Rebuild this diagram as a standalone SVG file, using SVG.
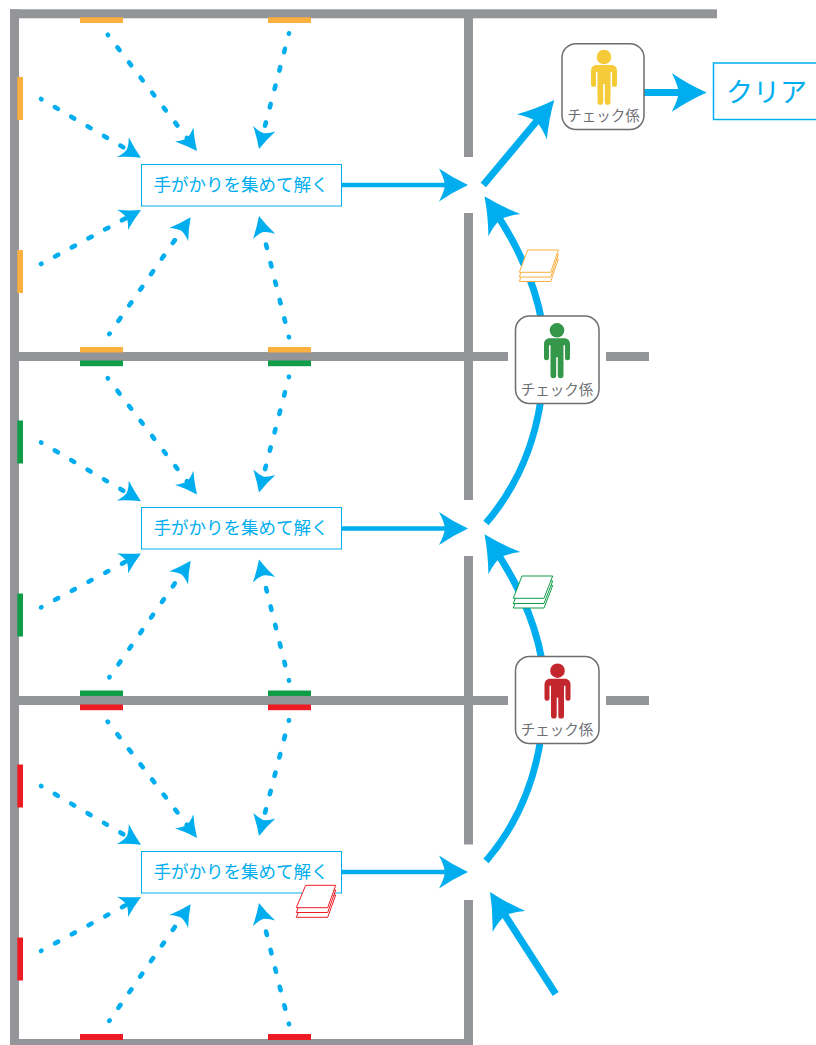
<svg xmlns="http://www.w3.org/2000/svg" xmlns:xlink="http://www.w3.org/1999/xlink" width="816" height="1045" viewBox="0 0 816 1045">
<style>
.wall{fill:#939598}
.o{fill:#fbb040}.g{fill:#0f9d48}.r{fill:#ed1c24}
.dot{fill:none;stroke:#00aeef;stroke-width:4.6;stroke-linecap:round;stroke-dasharray:3.500 15.500;stroke-dashoffset:3;marker-end:url(#hd)}
.thin{fill:none;stroke:#00aeef;stroke-width:4.5;marker-end:url(#hm)}
.thick{fill:none;stroke:#00aeef;stroke-width:7;marker-end:url(#hb)}
.task{fill:#fff;stroke:#00aeef;stroke-width:1}
.tt{font-family:"Noto Sans CJK JP","Noto Sans",sans-serif;font-size:17.5px;fill:#00aeef;text-anchor:middle}
.chk{fill:#fff;stroke:#6d6e71;stroke-width:1.5}
.ct{font-family:"Noto Sans CJK JP","Noto Sans",sans-serif;font-size:14.5px;fill:#6d6e71;text-anchor:middle}
.sheet{fill:#fff;stroke-width:1}
</style>
<defs>
<marker id="hd" markerUnits="userSpaceOnUse" markerWidth="30" markerHeight="30" refX="13" refY="0" orient="auto" viewBox="0 -15 30 30"><path fill="#00aeef" d="M21,0Q10,-5 0,-11.500Q4,-5 4.500,0Q4,5 0,11.500Q10,5 21,0Z"/></marker>
<marker id="hm" markerUnits="userSpaceOnUse" markerWidth="40" markerHeight="40" refX="19" refY="0" orient="auto" viewBox="0 -20 40 40"><path fill="#00aeef" d="M29,0Q14,-7 0,-16.500Q5,-7 6,0Q5,7 0,16.500Q14,7 29,0Z"/></marker>
<marker id="hb" markerUnits="userSpaceOnUse" markerWidth="50" markerHeight="50" refX="23" refY="0" orient="auto" viewBox="0 -25 50 50"><path fill="#00aeef" d="M35,0Q17,-8 0,-19.500Q6,-8 7,0Q6,8 0,19.500Q17,8 35,0Z"/></marker>
<g id="person"><path d="M-7,0H7C11,0 13,2.500 13,6V19.500A2.500,2.500 0 0 1 8,19.500V7H6.500V37A2.850,2.850 0 0 1 .8,37V19H-.8V37A2.850,2.850 0 0 1 -6.500,37V7H-8V19.500A2.500,2.500 0 0 1 -13,19.500V6C-13,2.500 -11,0 -7,0Z"/><circle cx="0" cy="-8" r="7.300"/></g>
</defs>
<g id="walls">
<rect class="wall" x="10" y="9.300" width="707" height="9"/>
<rect class="wall" x="10" y="9.300" width="9" height="1035.700"/>
<rect class="wall" x="464" y="18" width="9" height="139"/>
<rect class="wall" x="464" y="213" width="9" height="287"/>
<rect class="wall" x="464" y="556" width="9" height="288.500"/>
<rect class="wall" x="464" y="900" width="9" height="145"/>
<rect class="wall" x="10" y="352" width="498" height="9"/>
<rect class="wall" x="606" y="352" width="43" height="9"/>
<rect class="wall" x="10" y="696" width="498" height="9"/>
<rect class="wall" x="606" y="696" width="43" height="9"/>
<rect class="wall" x="10" y="1039" width="463" height="6"/>
</g>
<g id="clue-markers">
<rect class="o" x="80" y="17.300" width="43" height="5.700"/><rect class="o" x="268" y="17.300" width="43" height="5.700"/>
<rect class="o" x="17.300" y="77" width="5.700" height="43"/><rect class="o" x="17.300" y="250" width="5.700" height="43"/>
<rect class="o" x="80" y="347" width="43" height="5.500"/><rect class="o" x="268" y="347" width="43" height="5.500"/>
<rect class="g" x="80" y="360.500" width="43" height="5.700"/><rect class="g" x="268" y="360.500" width="43" height="5.700"/>
<rect class="g" x="17.300" y="420.500" width="5.700" height="43"/><rect class="g" x="17.300" y="593.500" width="5.700" height="43"/>
<rect class="g" x="80" y="690.500" width="43" height="5.500"/><rect class="g" x="268" y="690.500" width="43" height="5.500"/>
<rect class="r" x="80" y="704.500" width="43" height="5.700"/><rect class="r" x="268" y="704.500" width="43" height="5.700"/>
<rect class="r" x="17.300" y="764.500" width="5.700" height="43"/><rect class="r" x="17.300" y="937.500" width="5.700" height="43"/>
<rect class="r" x="80" y="1034" width="43" height="6"/><rect class="r" x="268" y="1034" width="43" height="6"/>
</g>
<g id="connectors">
<g id="dots-1">
<path class="dot" d="M107.700,34.700L192.100,144.700"/><path class="dot" d="M289,33.300L261,141.300"/><path class="dot" d="M41,99L134.100,153.700"/><path class="dot" d="M41,264L134,213.800"/><path class="dot" d="M109.300,334L186.100,223.900"/><path class="dot" d="M289,337.300L260.900,223.800"/>
<path class="thin" d="M342,185L458,185"/>
</g>
<g id="dots-2" transform="translate(0,343.400)">
<path class="dot" d="M107.700,34.700L192.100,144.700"/><path class="dot" d="M289,33.300L261,141.300"/><path class="dot" d="M41,99L134.100,153.700"/><path class="dot" d="M41,264L134,213.800"/><path class="dot" d="M109.300,334L186.100,223.900"/><path class="dot" d="M289,337.300L260.900,223.800"/>
<path class="thin" d="M342,185L458,185"/>
</g>
<g id="dots-3" transform="translate(0,686.900)">
<path class="dot" d="M107.700,34.700L192.100,144.700"/><path class="dot" d="M289,33.300L261,141.300"/><path class="dot" d="M41,99L134.100,153.700"/><path class="dot" d="M41,264L134,213.800"/><path class="dot" d="M109.300,334L186.100,223.900"/><path class="dot" d="M289,337.300L260.900,223.800"/>
<path class="thin" d="M342,185L458,185"/>
</g>
<path class="thick" d="M555.700,994L496.500,902.100"/>
<path class="thick" d="M486,861C523,818 542,763 544,703C548,658 530,600 491.300,544.200"/>
<path class="thick" d="M486,523C523,480 542,425 544,365C548,320 530,262 491.300,206.200"/>
<path class="thick" d="M483.300,185L546.600,109.200"/>
<path class="thick" d="M644,92.500L694.700,92.500"/>
</g>
<g id="task-1"><rect class="task" x="141.500" y="164.500" width="200" height="41.500"/><text class="tt" x="241" y="191">手がかりを集めて解く</text></g>
<g id="task-2"><rect class="task" x="141.500" y="507.500" width="200" height="41.500"/><text class="tt" x="241" y="534">手がかりを集めて解く</text></g>
<g id="task-3"><rect class="task" x="141.500" y="851.500" width="200" height="41.500"/><text class="tt" x="241" y="878">手がかりを集めて解く</text></g>
<g id="checker-red"><rect class="chk" x="515.500" y="656.500" width="83.500" height="87" rx="14"/><use href="#person" x="557.500" y="678.700" fill="#c4262e"/><text class="ct" x="557" y="735">チェック係</text></g>
<g id="checker-green"><rect class="chk" x="515.500" y="316" width="83.500" height="87.500" rx="14"/><use href="#person" x="557" y="338.300" fill="#35974a"/><text class="ct" x="557" y="395">チェック係</text></g>
<g id="checker-yellow"><rect class="chk" x="562" y="43.700" width="82" height="85.800" rx="14"/><use href="#person" x="604" y="65" fill="#f5cb3a"/><text class="ct" x="603.500" y="121">チェック係</text></g>
<g id="clear"><rect x="713.500" y="63" width="110" height="56.500" fill="#fff" stroke="#00aeef" stroke-width="1.500"/><text x="766.500" y="102" font-family="'Noto Sans CJK JP','Noto Sans',sans-serif" font-size="27" fill="#00aeef" text-anchor="middle">クリア</text></g>
<g id="papers-orange" stroke="#fbb040">
<path class="sheet" d="M527.700,259H558.300L550.700,281.500H519.300Z"/><path class="sheet" d="M527.700,254.500H558.300L550.700,277H519.300Z"/><path class="sheet" d="M527.700,250H558.300L550.700,272.300H519.300Z"/>
</g>
<g id="papers-green" stroke="#0f9d48">
<path class="sheet" d="M522,585.500H552.700L544,608H513.300Z"/><path class="sheet" d="M522,581H552.700L544,603.500H513.300Z"/><path class="sheet" d="M522,576H552.700L544,598.300H513.300Z"/>
</g>
<g id="papers-red" stroke="#ed1c24">
<path class="sheet" d="M305.700,895H335.700L327.700,917.300H296.300Z"/><path class="sheet" d="M305.700,890H335.700L327.700,912.500H296.300Z"/><path class="sheet" d="M305.700,885.300H335.700L327.700,907.700H296.300Z"/>
</g>
</svg>
